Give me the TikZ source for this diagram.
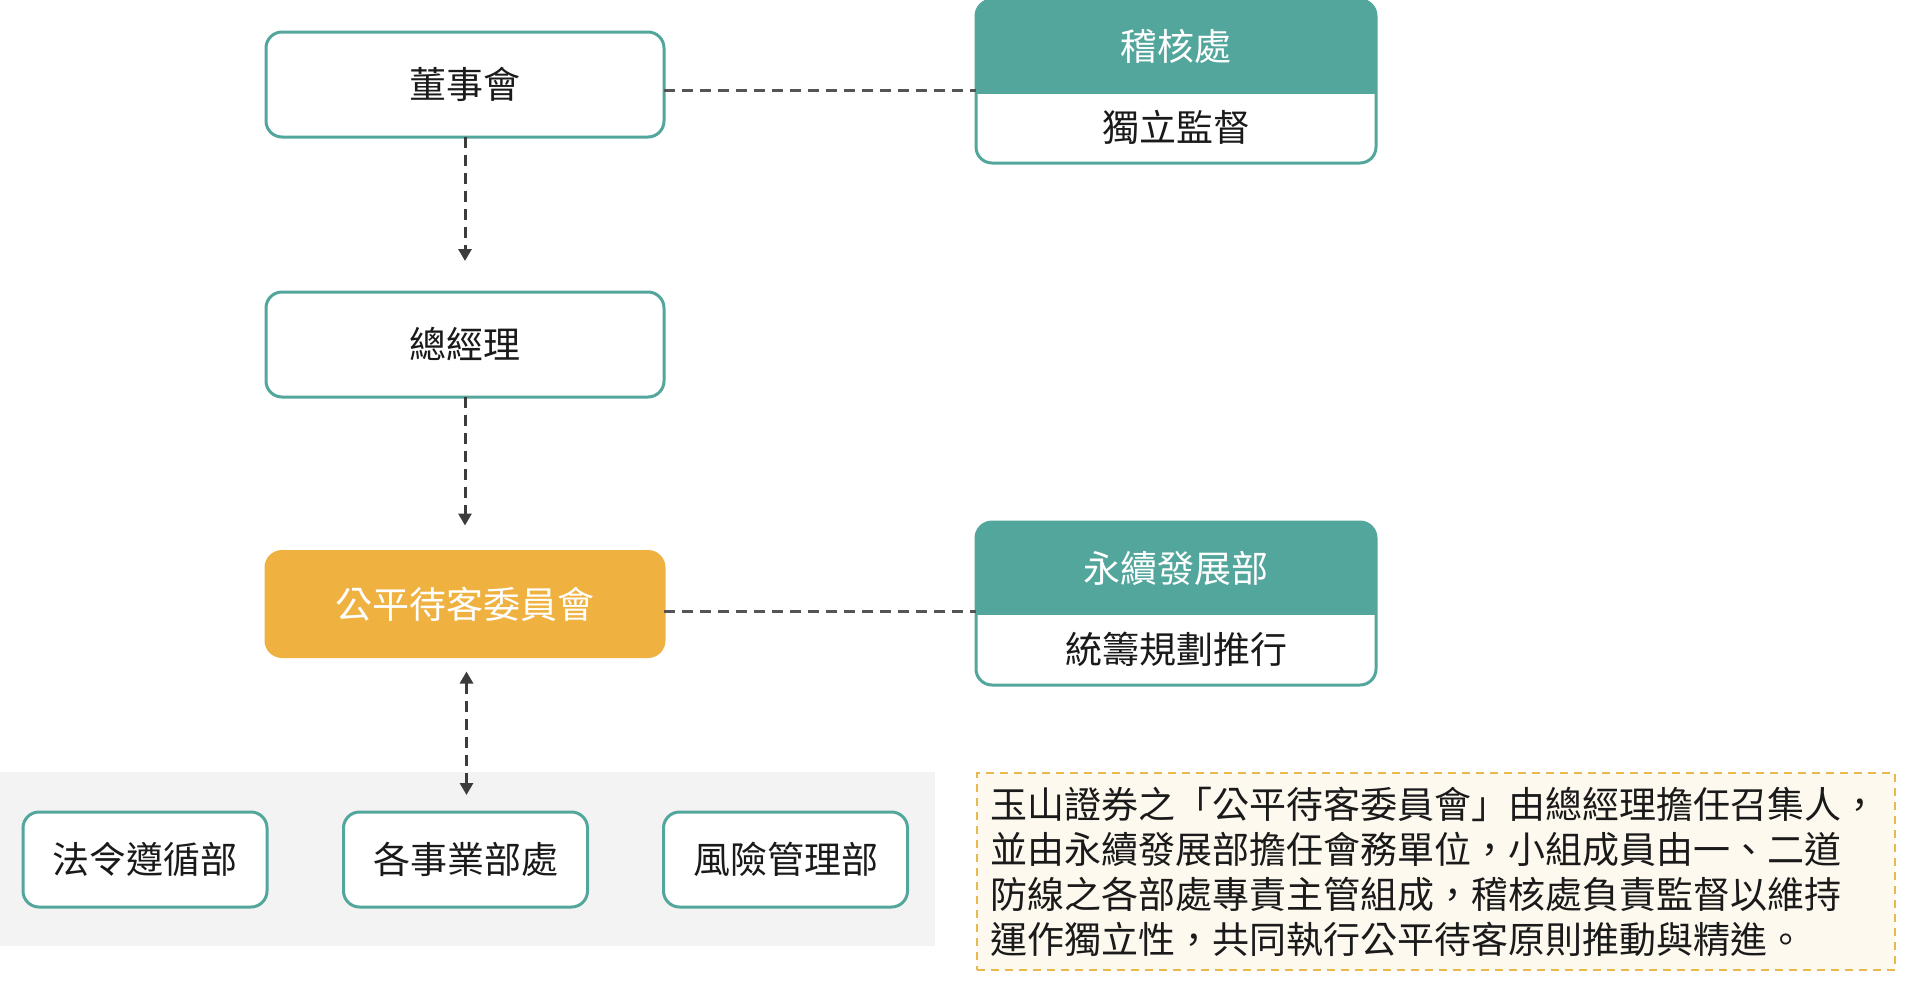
\documentclass[tikz,border=0pt]{standalone}
\usepackage{fontspec}
\setmainfont{Noto Sans CJK TC}[Script=CJK, Language=Chinese Traditional]
\usetikzlibrary{arrows.meta}

\definecolor{tealgreen}{HTML}{53A69C}
\definecolor{goldbox}{HTML}{EFB140}
\definecolor{panelgray}{HTML}{F3F3F3}
\definecolor{notefill}{HTML}{FDF9EF}
\definecolor{noteline}{HTML}{E9B84E}
\definecolor{linkgray}{HTML}{555555}
\definecolor{arrowgray}{HTML}{3C3C3C}
\definecolor{inkblack}{HTML}{1A1A1A}

\begin{document}
\begin{tikzpicture}[x=1pt, y=-1pt, font=\fontsize{37}{45}\selectfont, text=inkblack,
	every node/.style={inner sep=0pt, outer sep=0pt},
	orgbox/.style={draw=tealgreen, line width=3pt, fill=white, rounded corners=16pt, minimum width=398pt, minimum height=105pt},
	unitbox/.style={orgbox, minimum width=400pt, minimum height=163pt},
	deptbox/.style={orgbox, minimum width=244pt, minimum height=95pt},
	link/.style={draw=linkgray, line width=3pt, dash pattern=on 11pt off 7pt},
	flow/.style={draw=arrowgray, line width=3pt, dash pattern=on 11pt off 7pt, -{Triangle[width=13pt,length=12pt]}}]
	
	\useasboundingbox (0,0) rectangle (1915,983);
	
	% Khung chính
	\node[orgbox] (board) at (465, 84.5) {董事會};
	\node[orgbox] (gm) at (465, 344.5) {總經理};
	\node[orgbox, fill=goldbox, draw=goldbox, text=white] (committee) at (465, 604) {公平待客委員會};
	
	%稽核處
	\node[unitbox] (audit) at (1176, 81.5) {};
	\begin{scope}
		\clip[rounded corners=16pt] (audit.north west) rectangle (audit.south east);
		\fill[tealgreen] (audit.north west) rectangle ([yshift=-94pt]audit.north east);
	\end{scope}
	\node[text=white] (auditHead) at ([yshift=-46pt]audit.north) {稽核處};
	\node (auditBody) at ([yshift=-127pt]audit.north) {獨立監督};
	
	% 永續發展部
	\node[unitbox] (sd) at (1176, 603.5) {};
	\begin{scope}
		\clip[rounded corners=16pt] (sd.north west) rectangle (sd.south east);
		\fill[tealgreen] (sd.north west) rectangle ([yshift=-93pt]sd.north east);
	\end{scope}
	\node[text=white] (sdHead) at ([yshift=-46pt]sd.north) {永續發展部};
	\node (sdBody) at ([yshift=-127pt]sd.north) {統籌規劃推行};
	
	% Các bộ phận
	\node[fill=panelgray, minimum width=935pt, minimum height=174pt] (panel) at (467.5, 859) {};
	\node[deptbox] (legal) at (145, 859.5) {法令遵循部};
	\node[deptbox] (biz) at (465.5, 859.5) {各事業部處};
	\node[deptbox] (risk) at (785.5, 859.5) {風險管理部};
	
	% Ghi chú
	\node[draw=noteline, line width=2pt, dash pattern=on 8pt off 6pt, fill=notefill, minimum width=918pt, minimum height=197pt, text width=890pt, align=left] (note) at (1435.5, 871.5) {玉山證券之「公平待客委員會」由總經理擔任召集人，\\並由永續發展部擔任會務單位，小組成員由一、二道\\防線之各部處專責主管組成，稽核處負責監督以維持\\運作獨立性，共同執行公平待客原則推動與精進。};
	
	% Đường nối
	\draw[link] ([yshift=-5.5pt]board.east) -- ([yshift=-5.5pt]board.east -| audit.west);
	\draw[link] ([yshift=-7pt]committee.east) -- ([yshift=-7pt]committee.east -| sd.west);
	\draw[flow, shorten >=31pt] (board.south) -- (gm.north);
	\draw[flow, shorten >=26pt] (gm.south) -- (committee.north);
	\draw[flow, {Triangle[width=13pt,length=12pt]}-{Triangle[width=13pt,length=12pt]}, shorten <=15pt, shorten >=17pt] ([xshift=1.5pt]committee.south) -- ([xshift=1.5pt]committee.south |- biz.north);
\end{tikzpicture}
\end{document}
